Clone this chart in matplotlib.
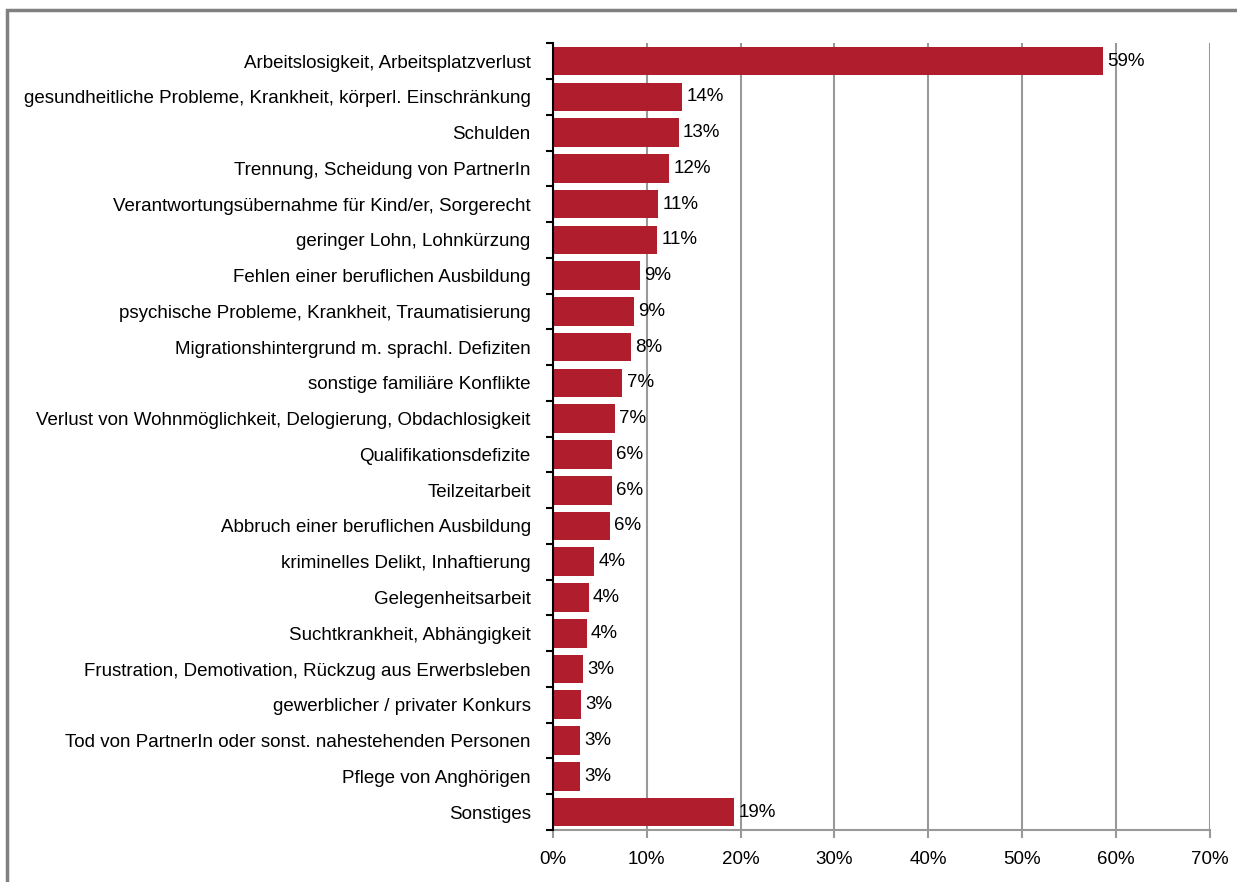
import matplotlib.pyplot as plt
import matplotlib.ticker as mticker
from matplotlib.patches import Rectangle

plt.rcParams['font.family'] = ['Liberation Sans', 'DejaVu Sans']

# categories top to bottom and shares in percent
categories = [
    'Arbeitslosigkeit, Arbeitsplatzverlust',
    'gesundheitliche Probleme, Krankheit, körperl. Einschränkung',
    'Schulden',
    'Trennung, Scheidung von PartnerIn',
    'Verantwortungsübernahme für Kind/er, Sorgerecht',
    'geringer Lohn, Lohnkürzung',
    'Fehlen einer beruflichen Ausbildung',
    'psychische Probleme, Krankheit, Traumatisierung',
    'Migrationshintergrund m. sprachl. Defiziten',
    'sonstige familiäre Konflikte',
    'Verlust von Wohnmöglichkeit, Delogierung, Obdachlosigkeit',
    'Qualifikationsdefizite',
    'Teilzeitarbeit',
    'Abbruch einer beruflichen Ausbildung',
    'kriminelles Delikt, Inhaftierung',
    'Gelegenheitsarbeit',
    'Suchtkrankheit, Abhängigkeit',
    'Frustration, Demotivation, Rückzug aus Erwerbsleben',
    'gewerblicher / privater Konkurs',
    'Tod von PartnerIn oder sonst. nahestehenden Personen',
    'Pflege von Anghörigen',
    'Sonstiges',
]
values = [58.6, 13.8, 13.4, 12.4, 11.2, 11.1, 9.3, 8.6, 8.3, 7.4, 6.6,
          6.3, 6.3, 6.1, 4.4, 3.8, 3.6, 3.2, 3.0, 2.9, 2.9, 19.3]

fs = 13.5

fig = plt.figure(figsize=(12.37, 8.82), dpi=100)
ax = fig.add_axes([0.447, 0.059, 0.531, 0.892])

n = len(categories)
ypos = list(range(n))
ax.barh(ypos, values, height=0.8, color='#B01E2E', zorder=3)
for y, v in zip(ypos, values):
    ax.text(v + 0.45, y, '%d%%' % round(v), va='center', ha='left', fontsize=fs)

ax.set_xlim(0, 70)
ax.set_ylim(n - 0.5, -0.5)
ax.set_yticks(ypos)
ax.set_yticklabels(categories, fontsize=fs)
ax.set_yticks([k + 0.5 for k in range(-1, n)], minor=True)
ax.tick_params(axis='y', which='major', length=0, pad=16)
ax.tick_params(axis='y', which='minor', length=5, width=1.5, color='black', direction='out')

ax.set_xticks(range(0, 71, 10))
ax.xaxis.set_major_formatter(mticker.FuncFormatter(lambda x, p: '%d%%' % x))
ax.tick_params(axis='x', length=6, width=1.5, color='#999999', labelsize=fs, pad=9)
ax.grid(axis='x', color='#999999', linewidth=1.5, zorder=0)

for s in ['top', 'right']:
    ax.spines[s].set_visible(False)
ax.spines['left'].set_color('black')
ax.spines['left'].set_linewidth(1.5)
ax.spines['left'].set_zorder(4)
ax.spines['bottom'].set_color('#999999')
ax.spines['bottom'].set_linewidth(1.5)

# gray frame, right and bottom sides lie outside the picture
fig.patches.append(Rectangle((7 / 1237, -0.05), 1.1, 1 - 10 / 882 + 0.05,
                             transform=fig.transFigure, fill=False,
                             edgecolor='#808080', linewidth=2.5))

fig.savefig('out.png', dpi=100)
